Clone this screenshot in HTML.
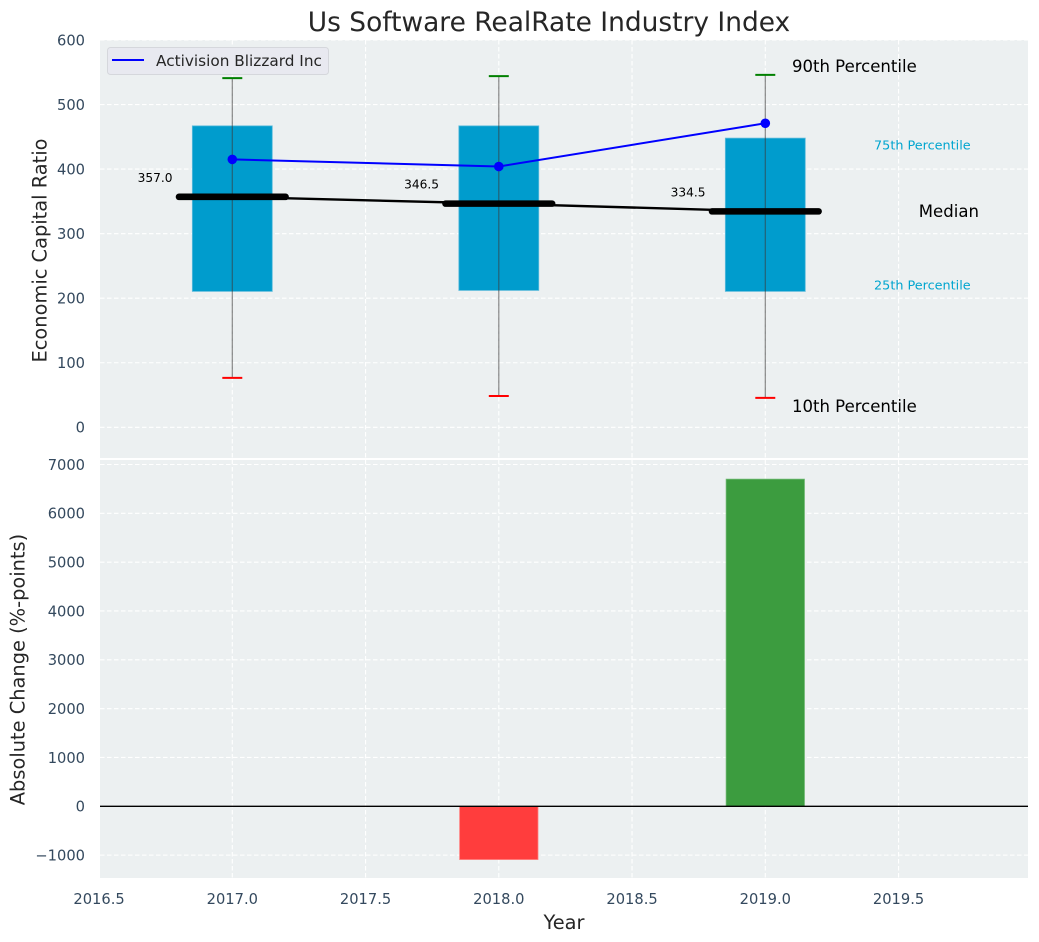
<!DOCTYPE html>
<html>
<head>
<meta charset="utf-8">
<title>Us Software RealRate Industry Index</title>
<style>
html,body{margin:0;padding:0;background:#fff;width:1039px;height:942px;overflow:hidden}
svg{display:block;font-family:"DejaVu Sans","Liberation Sans",sans-serif}
</style>
</head>
<body>
<svg id="chart" width="1039" height="942" viewBox="0 0 1039 942">
<text x="549" y="31" text-anchor="middle" font-size="26.45" fill="#262626">Us Software RealRate Industry Index</text>
<rect x="100" y="40" width="928" height="418" fill="#ecf0f1"/>
<rect x="100" y="460" width="928" height="418" fill="#ecf0f1"/>
<g id="grid"></g>
<g id="top"></g>
<g id="bottom"></g>
<g id="ticks"></g>
<text transform="translate(46.5,250.5) rotate(-90)" text-anchor="middle" font-size="19.4" fill="#262626">Economic Capital Ratio</text>
<text transform="translate(24.5,669.5) rotate(-90)" text-anchor="middle" font-size="19.4" fill="#262626">Absolute Change (%-points)</text>
<text x="564" y="929" text-anchor="middle" font-size="19.4" fill="#262626">Year</text>
<g>
<rect x="107.5" y="47.5" width="221" height="27" rx="3" fill="#e8e9f0" stroke="#d5d7dc" stroke-width="1"/>
<line x1="112" y1="60" x2="144" y2="60" stroke="#0000ff" stroke-width="2"/>
<text x="156" y="66" font-size="15.3" fill="#262626">Activision Blizzard Inc</text>
</g>
</svg>
<script>
const years = [2017, 2018, 2019];
const p10 = [76.5, 48.5, 45.5];
const p25 = [210.5, 212, 210.5];
const median = [357.0, 346.5, 334.5];
const p75 = [467, 467, 448];
const p90 = [541, 544, 546];
const company = [415, 404, 471];
const changeYears = [2018, 2019];
const changeValues = [-1090, 6700];
const xTicks = [2016.5, 2017, 2017.5, 2018, 2018.5, 2019, 2019.5];
const topTicks = [0, 100, 200, 300, 400, 500, 600];
const bottomTicks = [-1000, 0, 1000, 2000, 3000, 4000, 5000, 6000, 7000];

const NS = 'http://www.w3.org/2000/svg';
const xScale = v => 232.3 + (v - 2017) * 266.5;
const yTop = v => 427.3 - v * 0.6455;
const yBottom = v => 806.3 - v * 0.04883;

function make(parent, tag, attrs, text) {
  const el = document.createElementNS(NS, tag);
  for (const k in attrs) el.setAttribute(k, attrs[k]);
  if (text !== undefined) el.textContent = text;
  parent.appendChild(el);
  return el;
}
const grid = document.getElementById('grid');
const topG = document.getElementById('top');
const bottomG = document.getElementById('bottom');
const ticks = document.getElementById('ticks');
const gridStyle = {stroke: '#ffffff', 'stroke-width': 1.1, 'stroke-dasharray': '4.5 2.5', fill: 'none'};

xTicks.forEach(t => {
  const x = xScale(t);
  const a = make(grid, 'line', Object.assign({x1: x, x2: x, y1: 40, y2: 458}, gridStyle));
  
  
  const b = make(grid, 'line', Object.assign({x1: x, x2: x, y1: 460, y2: 878}, gridStyle));
  
  
  const l = make(ticks, 'text', {x: x, y: 904, 'text-anchor': 'middle', 'font-size': 14.67, fill: '#34495e'}, t.toFixed(1));
  
  
});
topTicks.forEach(t => {
  const y = yTop(t);
  const g = make(grid, 'line', Object.assign({x1: 100, x2: 1028, y1: y, y2: y}, gridStyle));
  
  
  const l = make(ticks, 'text', {x: 85, y: y + 5.3, 'text-anchor': 'end', 'font-size': 14.67, fill: '#34495e'}, String(t));
  
  
});
bottomTicks.forEach(t => {
  const y = yBottom(t);
  const g = make(grid, 'line', Object.assign({x1: 100, x2: 1028, y1: y, y2: y}, gridStyle));
  
  
  const l = make(ticks, 'text', {x: 85, y: y + 5.3, 'text-anchor': 'end', 'font-size': 14.67, fill: '#34495e'}, String(t).replace('-', '\u2212'));
  
  
});

years.forEach((yr, i) => {
  const cx = xScale(yr);
  const box = make(topG, 'rect', {x: xScale(yr - 0.15), y: yTop(p75[i]), width: xScale(yr + 0.15) - xScale(yr - 0.15), height: yTop(p25[i]) - yTop(p75[i]), fill: '#009ccd', stroke: '#5fbcdc', 'stroke-width': 0.8});
  
  
  const w = make(topG, 'line', {x1: cx, x2: cx, y1: yTop(p90[i]), y2: yTop(p10[i]), stroke: '#3a3a3a', 'stroke-opacity': 0.6, 'stroke-width': 1.2});
  
  
  const c90 = make(topG, 'line', {x1: xScale(yr - 0.0375), x2: xScale(yr + 0.0375), y1: yTop(p90[i]), y2: yTop(p90[i]), stroke: '#008000', 'stroke-width': 2});
  
  
  const c10 = make(topG, 'line', {x1: xScale(yr - 0.0375), x2: xScale(yr + 0.0375), y1: yTop(p10[i]), y2: yTop(p10[i]), stroke: '#ff0000', 'stroke-width': 2});
  
  
});

const medianLine = make(topG, 'polyline', {points: years.map((yr, i) => xScale(yr) + ',' + yTop(median[i])).join(' '), fill: 'none', stroke: '#000', 'stroke-width': 2.4});



years.forEach((yr, i) => {
  const y = yTop(median[i]);
  const m = make(topG, 'line', {x1: xScale(yr - 0.2), x2: xScale(yr + 0.2), y1: y, y2: y, stroke: '#000', 'stroke-width': 6.6, 'stroke-linecap': 'round'});
  
  
  const t = make(topG, 'text', {x: xScale(yr - 0.29), y: y - 15, 'text-anchor': 'middle', 'font-size': 12.2, fill: '#000'}, median[i].toFixed(1));
  
  
});

const companyLine = make(topG, 'polyline', {points: years.map((yr, i) => xScale(yr) + ',' + yTop(company[i])).join(' '), fill: 'none', stroke: '#0000ff', 'stroke-width': 2});


years.forEach((yr, i) => {
  const p = make(topG, 'circle', {cx: xScale(yr), cy: yTop(company[i]), r: 4.8, fill: '#0000ff'});
  
  
});

const lastIdx = years.length - 1;
const lastYear = years[lastIdx];
const l90 = make(topG, 'text', {x: xScale(lastYear + 0.1), y: yTop(p90[lastIdx]) - 3, 'font-size': 16.55, fill: '#000'}, '90th Percentile');


const l75 = make(topG, 'text', {x: xScale(lastYear + 0.408), y: yTop(p75[lastIdx]) + 11.5, 'font-size': 12.8, fill: '#00a5cf'}, '75th Percentile');


const lMed = make(topG, 'text', {x: xScale(lastYear + 0.576), y: yTop(median[lastIdx]) + 5.5, 'font-size': 16.55, fill: '#000'}, 'Median');


const l25 = make(topG, 'text', {x: xScale(lastYear + 0.408), y: yTop(p25[lastIdx]) - 2, 'font-size': 12.8, fill: '#00a5cf'}, '25th Percentile');


const l10 = make(topG, 'text', {x: xScale(lastYear + 0.1), y: yTop(p10[lastIdx]) + 14, 'font-size': 16.55, fill: '#000'}, '10th Percentile');



changeYears.forEach((yr, i) => {
  const v = changeValues[i];
  const y0 = yBottom(Math.max(v, 0));
  const y1 = yBottom(Math.min(v, 0));
  const bar = make(bottomG, 'rect', {x: xScale(yr - 0.147), y: y0, width: xScale(yr + 0.147) - xScale(yr - 0.147), height: y1 - y0, fill: v < 0 ? '#ff3d3d' : '#3c9c3f', stroke: v < 0 ? '#ff7a7a' : '#6fb872', 'stroke-width': 0.8});
  
  
});
const zero = make(bottomG, 'line', {x1: 100, x2: 1028, y1: yBottom(0), y2: yBottom(0), stroke: '#000', 'stroke-width': 1.4});


</script>
</body>
</html>
